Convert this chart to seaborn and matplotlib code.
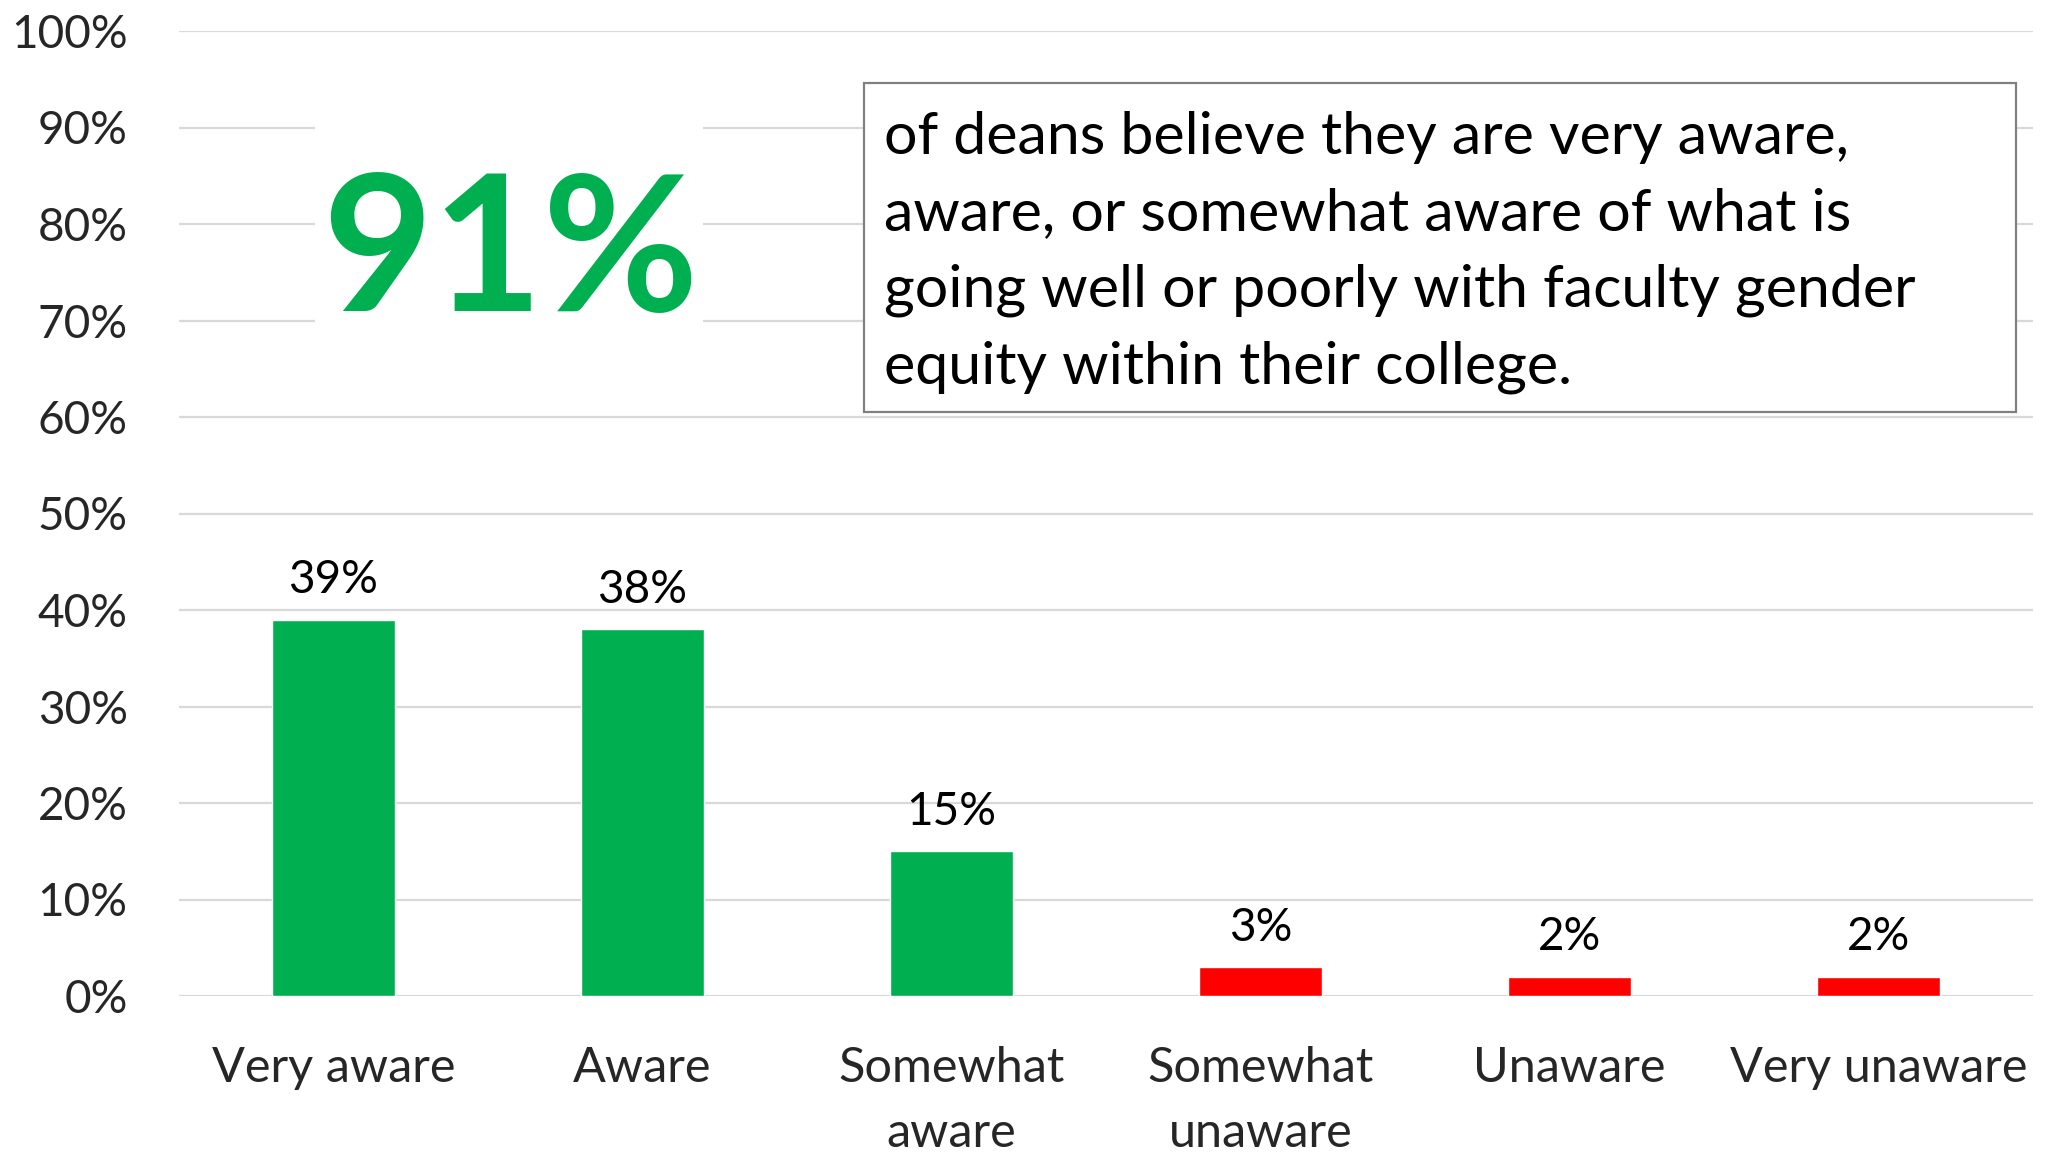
import matplotlib
matplotlib.use("Agg")
import matplotlib.pyplot as plt
from matplotlib.patches import Rectangle
import seaborn as sns
import pandas as pd

# Survey responses: deans' awareness of faculty gender equity issues
categories = ["Very aware", "Aware", "Somewhat\naware", "Somewhat\nunaware", "Unaware", "Very unaware"]
values = [39, 38, 15, 3, 2, 2]
bar_colors = ["#00B050", "#00B050", "#00B050", "#FF0000", "#FF0000", "#FF0000"]
ytick_values = [0, 10, 20, 30, 40, 50, 60, 70, 80, 90, 100]
ytick_labels = [f"{v}%" for v in ytick_values]
headline = "91%"
callout = ("of deans believe they are very aware,\n"
           "aware, or somewhat aware of what is\n"
           "going well or poorly with faculty gender\n"
           "equity within their college.")

sns.set_theme(style="white")
plt.rcParams["font.family"] = ["Lato", "DejaVu Sans"]

W, H = 2049, 1154
fig = plt.figure(figsize=(W / 100, H / 100), dpi=100)


def fx(px):
    return px / W


def fy(py):
    return 1 - py / H


ax = fig.add_axes([fx(179), fy(996), fx(2033) - fx(179), fy(31) - fy(996)])

df = pd.DataFrame({"category": categories, "value": values})
sns.barplot(data=df, x="category", y="value", hue="category",
            palette=dict(zip(categories, bar_colors)), legend=False,
            width=0.4, saturation=1, ax=ax, zorder=2)

ax.set_xlim(-0.5, len(categories) - 0.5)
ax.set_ylim(0, 100)
ax.set_yticks(ytick_values)
ax.set_yticklabels(ytick_labels)
ax.set_xlabel("")
ax.set_ylabel("")
ax.yaxis.grid(True, color="#D9D9D9", linewidth=1.6)
ax.xaxis.grid(False)
ax.set_axisbelow(True)
for s in ax.spines.values():
    s.set_visible(False)
ax.tick_params(axis="y", length=0, pad=37, labelsize=33)
ax.tick_params(axis="x", length=0, pad=36, labelsize=35)
for lbl in ax.get_xticklabels():
    lbl.set_linespacing(1.57)

# Value labels above each bar
for i, v in enumerate(values):
    ax.annotate(f"{v}%", xy=(i, v), xytext=(0, 19), textcoords="offset points",
                ha="center", va="baseline", fontsize=33, color="black")

# White panel behind the headline figure
ax.add_patch(Rectangle((fx(315), fy(345)), fx(703) - fx(315), fy(105) - fy(345),
                       transform=fig.transFigure, facecolor="white",
                       edgecolor="none", zorder=1))
fig.text(fx(510), fy(311), headline, ha="center", va="baseline",
         fontsize=137, fontweight="bold", color="#00B050", zorder=5)

# Callout box
ax.add_patch(Rectangle((fx(864), fy(412)), fx(2016) - fx(864), fy(83) - fy(412),
                       transform=fig.transFigure, facecolor="white",
                       edgecolor="#808080", linewidth=1.6, zorder=1,
                       clip_on=False))
fig.text(fx(884), fy(111), callout, ha="left", va="top",
         fontsize=42.6, linespacing=1.54, color="black", zorder=5)

fig.savefig("out.png", dpi=100, facecolor="white")
